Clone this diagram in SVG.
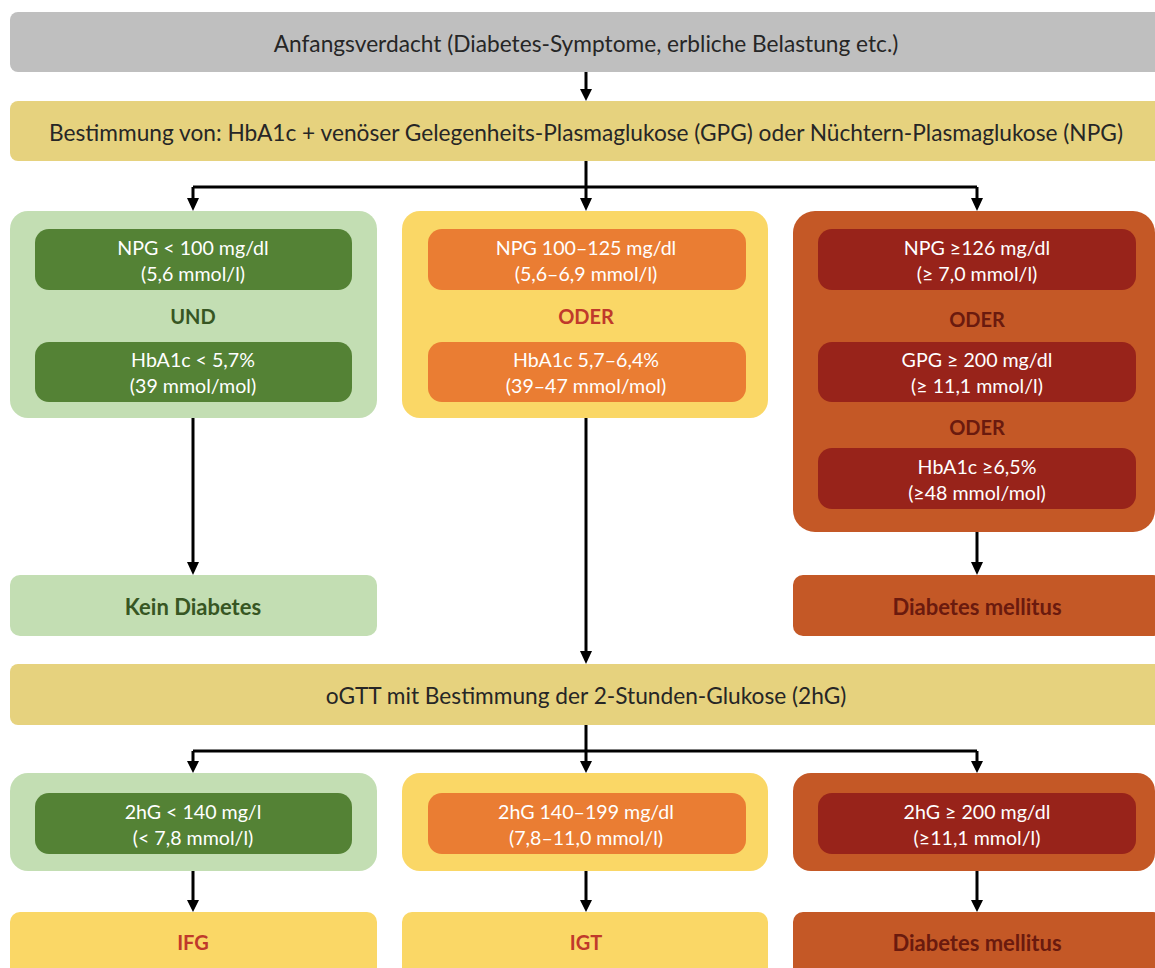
<svg xmlns="http://www.w3.org/2000/svg" width="1155" height="968" viewBox="0 0 1155 968">
<defs>
<style>
text{font-family:Lato,"Open Sans","Liberation Sans",sans-serif;text-anchor:middle;dominant-baseline:central}
.band{font-size:22.7px;fill:#262626}
.in{font-size:19.6px;fill:#ffffff}
.lbl{font-size:20px;font-weight:bold}
.res{font-size:22px;font-weight:bold}
.con{fill:none;stroke:#000;stroke-width:3}
</style>
</defs>
<rect width="1155" height="968" fill="#ffffff"/>
<g id="connectors">
<path class="con" d="M586,72 V92"/>
<path d="M580,89 L586,101 L592,89 z"/>
<path class="con" d="M586,161 V187 M193,187 H977 M193,187 V200 M586,187 V200 M977,187 V200"/>
<path d="M187,198 L193,211 L199,198 z M580,198 L586,211 L592,198 z M971,198 L977,211 L983,198 z"/>
<path class="con" d="M193,418 V565"/>
<path d="M187,562 L193,575 L199,562 z"/>
<path class="con" d="M977,532 V565"/>
<path d="M971,562 L977,575 L983,562 z"/>
<path class="con" d="M586,418 V655"/>
<path d="M580,651 L586,664 L592,651 z"/>
<path class="con" d="M586,725 V751 M193,751 H977 M193,751 V763 M586,751 V763 M977,751 V763"/>
<path d="M187,761 L193,773 L199,761 z M580,761 L586,773 L592,761 z M971,761 L977,773 L983,761 z"/>
<path class="con" d="M193,871 V903 M586,871 V903 M977,871 V903"/>
<path d="M187,900 L193,912 L199,900 z M580,900 L586,912 L592,900 z M971,900 L977,912 L983,900 z"/>
</g>
<g id="start">
<rect x="10" y="12" width="1160" height="60" rx="8" fill="#bfbfbf"/>
<text class="band" x="586" y="43">Anfangsverdacht (Diabetes-Symptome, erbliche Belastung etc.)</text>
</g>
<g id="bestimmung">
<rect x="10" y="101" width="1160" height="60" rx="8" fill="#e6d27e"/>
<text class="band" x="586" y="132">Bestimmung von: HbA1c + venöser Gelegenheits-Plasmaglukose (GPG) oder Nüchtern-Plasmaglukose (NPG)</text>
</g>
<g id="col-normal">
<rect x="10" y="211" width="367" height="207" rx="18" fill="#c3deb3"/>
<rect x="35" y="229" width="317" height="61" rx="14" fill="#548235"/>
<text class="in" x="193" y="247">NPG &lt; 100 mg/dl</text>
<text class="in" x="193" y="273">(5,6 mmol/l)</text>
<text class="lbl" x="193" y="316" fill="#375623">UND</text>
<rect x="35" y="342" width="317" height="60" rx="14" fill="#548235"/>
<text class="in" x="193" y="359">HbA1c &lt; 5,7%</text>
<text class="in" x="193" y="385">(39 mmol/mol)</text>
</g>
<g id="col-pre">
<rect x="402" y="211" width="366" height="207" rx="18" fill="#fad766"/>
<rect x="428" y="229" width="318" height="61" rx="14" fill="#ea7d33"/>
<text class="in" x="586" y="247">NPG 100–125 mg/dl</text>
<text class="in" x="586" y="273">(5,6–6,9 mmol/l)</text>
<text class="lbl" x="586" y="316" fill="#c0392b">ODER</text>
<rect x="428" y="342" width="318" height="60" rx="14" fill="#ea7d33"/>
<text class="in" x="586" y="359">HbA1c 5,7–6,4%</text>
<text class="in" x="586" y="385">(39–47 mmol/mol)</text>
</g>
<g id="col-diab">
<rect x="793" y="211" width="362" height="321" rx="22" fill="#c45826"/>
<rect x="818" y="229" width="318" height="61" rx="14" fill="#98231a"/>
<text class="in" x="977" y="247">NPG ≥126 mg/dl</text>
<text class="in" x="977" y="273">(≥ 7,0 mmol/l)</text>
<text class="lbl" x="977" y="319" fill="#6a1a0e">ODER</text>
<rect x="818" y="342" width="318" height="60" rx="14" fill="#98231a"/>
<text class="in" x="977" y="359">GPG ≥ 200 mg/dl</text>
<text class="in" x="977" y="385">(≥ 11,1 mmol/l)</text>
<text class="lbl" x="977" y="427" fill="#6a1a0e">ODER</text>
<rect x="818" y="448" width="318" height="61" rx="14" fill="#98231a"/>
<text class="in" x="977" y="466">HbA1c ≥6,5%</text>
<text class="in" x="977" y="492">(≥48 mmol/mol)</text>
</g>
<g id="kein-diabetes">
<rect x="10" y="575" width="367" height="61" rx="10" fill="#c3deb3"/>
<text class="res" x="193" y="606" fill="#375623">Kein Diabetes</text>
</g>
<g id="diabetes-1">
<rect x="793" y="575" width="370" height="61" rx="10" fill="#c45826"/>
<text class="res" x="977" y="606" fill="#6a1a0e">Diabetes mellitus</text>
</g>
<g id="ogtt">
<rect x="10" y="664" width="1160" height="61" rx="8" fill="#e6d27e"/>
<text class="band" x="586" y="695">oGTT mit Bestimmung der 2-Stunden-Glukose (2hG)</text>
</g>
<g id="col2-normal">
<rect x="10" y="773" width="367" height="98" rx="18" fill="#c3deb3"/>
<rect x="35" y="793" width="317" height="61" rx="14" fill="#548235"/>
<text class="in" x="193" y="811">2hG &lt; 140 mg/l</text>
<text class="in" x="193" y="837">(&lt; 7,8 mmol/l)</text>
</g>
<g id="col2-igt">
<rect x="402" y="773" width="366" height="98" rx="18" fill="#fad766"/>
<rect x="428" y="793" width="318" height="61" rx="14" fill="#ea7d33"/>
<text class="in" x="586" y="811">2hG 140–199 mg/dl</text>
<text class="in" x="586" y="837">(7,8–11,0 mmol/l)</text>
</g>
<g id="col2-diab">
<rect x="793" y="773" width="362" height="98" rx="18" fill="#c45826"/>
<rect x="818" y="793" width="318" height="61" rx="14" fill="#98231a"/>
<text class="in" x="977" y="811">2hG ≥ 200 mg/dl</text>
<text class="in" x="977" y="837">(≥11,1 mmol/l)</text>
</g>
<g id="ifg">
<rect x="10" y="912" width="367" height="70" rx="10" fill="#fad766"/>
<text class="lbl" x="193" y="942" fill="#c0392b">IFG</text>
</g>
<g id="igt">
<rect x="402" y="912" width="366" height="70" rx="10" fill="#fad766"/>
<text class="lbl" x="586" y="942" fill="#c0392b">IGT</text>
</g>
<g id="diabetes-2">
<rect x="793" y="912" width="370" height="70" rx="10" fill="#c45826"/>
<text class="res" x="977" y="942" fill="#6a1a0e">Diabetes mellitus</text>
</g>
</svg>
